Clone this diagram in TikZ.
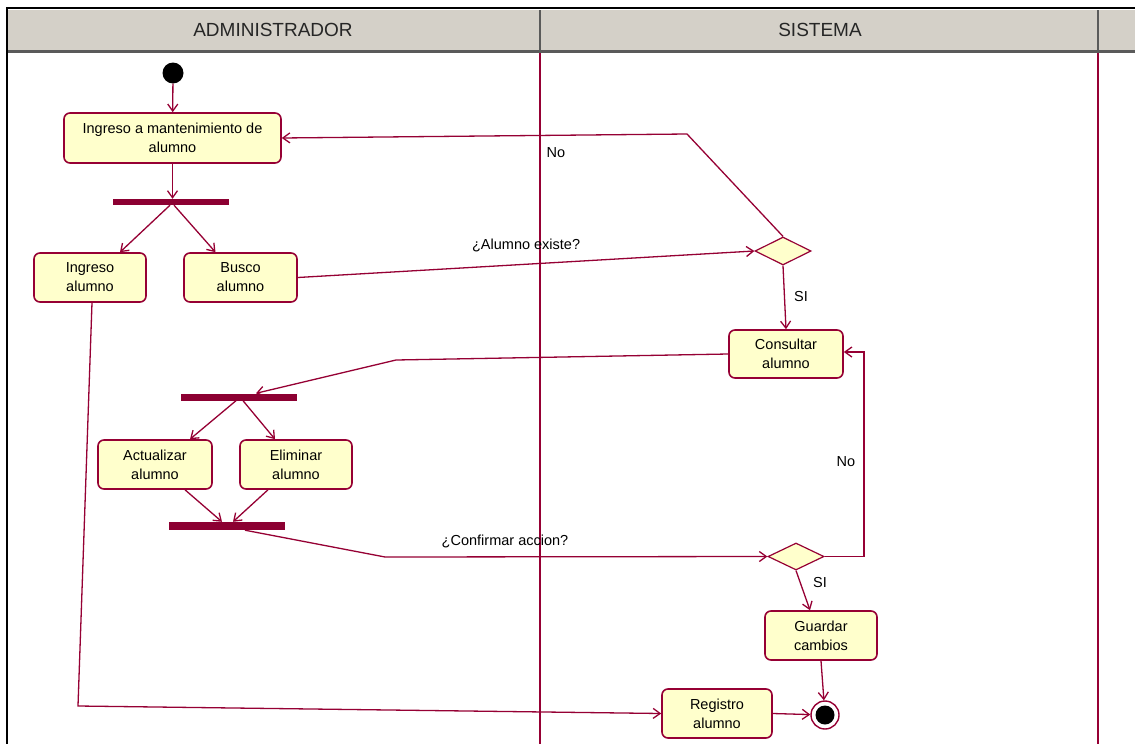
\documentclass[tikz,border=0pt]{standalone}
\usepackage{fontspec}
\setmainfont{Liberation Sans}
\usetikzlibrary{shapes.geometric,arrows.meta}
\definecolor{ln}{RGB}{150,0,52}
\definecolor{barc}{RGB}{140,0,50}
\definecolor{boxfill}{RGB}{255,255,204}
\definecolor{hdr}{RGB}{212,208,200}
\definecolor{hdrline}{RGB}{90,90,90}
\begin{document}
\begin{tikzpicture}[x=1pt,y=-1pt,
  act/.style={rectangle, rounded corners=6pt, draw=ln, fill=boxfill, line width=1.6pt,
    align=center, inner sep=1pt, font=\fontsize{14.5}{19}\selectfont},
  bar/.style={rectangle, fill=barc, inner sep=0pt, minimum height=7pt},
  dec/.style={diamond, draw=ln, fill=boxfill, line width=1.2pt, inner sep=0pt, aspect=2,
    minimum width=56pt, minimum height=28pt},
  flow/.style={draw=ln, line width=1.3pt, -{Straight Barb[length=7pt,width=10pt]}},
  lbl/.style={font=\fontsize{14.5}{17}\selectfont, inner sep=0pt},
  hlbl/.style={font=\fontsize{19}{21}\selectfont, text=black!85, inner sep=0pt}]
\useasboundingbox (0,0) rectangle (1135,744);
\fill[white] (0,0) rectangle (1135,744);
% swimlane header
\fill[hdr] (6,10) rectangle (1135,50);
\draw[black, line width=1.5pt] (6,8) -- (1135,8);
\draw[hdrline, line width=3pt] (6,51) -- (1135,51);
\draw[hdrline, line width=1.5pt] (540,10) -- (540,50);
\draw[hdrline, line width=1.5pt] (1098,10) -- (1098,50);
\draw[black, line width=1.5pt] (7,8) -- (7,744);
\draw[ln, line width=1.2pt] (540,53) -- (540,744);
\draw[ln, line width=1.2pt] (1098,53) -- (1098,744);
\node[hlbl] (h1) at (273,30) {ADMINISTRADOR};
\node[hlbl] (h2) at (820,30) {SISTEMA};
% nodes
\node[circle, fill=black, minimum size=21pt, inner sep=0pt] (start) at (173,73) {};
\node[act, minimum width=217pt, minimum height=50pt] (n1) at (172.5,138) {Ingreso a mantenimiento de\\alumno};
\node[bar, minimum width=116pt, minimum height=6pt] (f1) at (171,202) {};
\node[act, minimum width=112pt, minimum height=49pt] (n2) at (90,277.5) {Ingreso\\alumno};
\node[act, minimum width=113pt, minimum height=49pt] (n3) at (240.5,277.5) {Busco\\alumno};
\node[dec] (d1) at (783,251) {};
\node[act, minimum width=114pt, minimum height=48pt] (n4) at (786,354) {Consultar\\alumno};
\node[bar, minimum width=116pt] (f2) at (239,397) {};
\node[act, minimum width=114pt, minimum height=49pt] (n5) at (155,464.5) {Actualizar\\alumno};
\node[act, minimum width=112pt, minimum height=49pt] (n6) at (296,464.5) {Eliminar\\alumno};
\node[bar, minimum width=116pt, minimum height=8pt] (f3) at (227,526) {};
\node[dec, minimum height=27pt] (d2) at (796,556.5) {};
\node[act, minimum width=112pt, minimum height=49pt] (n7) at (821,635.5) {Guardar\\cambios};
\node[act, minimum width=110pt, minimum height=49pt] (n8) at (717,713.5) {Registro\\alumno};
\node[circle, draw=ln, fill=white, line width=1.4pt, minimum size=28pt, inner sep=0pt] (endo) at (825,715) {};
\node[circle, fill=black, minimum size=19pt, inner sep=0pt] (endi) at (825,715) {};
% flows
\draw[flow] (start) -- (n1);
\draw[flow] (n1.south) -- (n1.south |- f1.north);
\draw[flow] ([xshift=-1pt]f1.south) -- ([xshift=30pt]n2.north);
\draw[flow] ([xshift=3pt]f1.south) -- ([xshift=-25pt]n3.north);
\draw[flow] (n3.east) -- node[lbl, pos=0.5, above=12pt] (l1) {¿Alumno existe?} (d1.west);
\draw[flow] (d1.north) -- (687,134) -- (n1.east);
\node[lbl] (l2) at (556,153) {No};
\draw[flow] (d1.south) -- (n4.north);
\node[lbl] (l3) at (801,297) {SI};
\draw[flow] (n4.west) -- (396,360) -- ([xshift=17pt]f2.north);
\draw[flow] ([xshift=-3pt]f2.south) -- ([xshift=35pt]n5.north);
\draw[flow] ([xshift=4pt]f2.south) -- ([xshift=-21pt]n6.north);
\draw[flow] ([xshift=30pt]n5.south) -- ([xshift=-5pt]f3.north);
\draw[flow] ([xshift=-28pt]n6.south) -- ([xshift=6pt]f3.north);
\draw[flow] ([xshift=18pt]f3.south) -- (385,557) -- (d2.west);
\node[lbl] (l4) at (505,541) {¿Confirmar accion?};
\draw[flow] (d2.east) -- (864,556.5) -- (864,352) -- (n4.east |- 0,352);
\node[lbl] (l5) at (846,462) {No};
\draw[flow] (d2.south) -- ([xshift=-11pt]n7.north);
\node[lbl] (l6) at (820,583) {SI};
\draw[flow] (n7.south) -- (endo);
\draw[flow] ([xshift=2pt]n2.south) -- (78,706) -- (n8.west);
\draw[flow] (n8.east) -- (endo);
\end{tikzpicture}
\end{document}
